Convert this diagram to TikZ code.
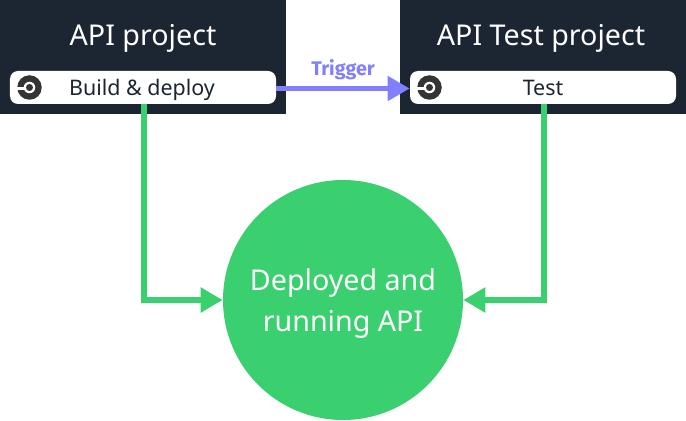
\documentclass[tikz,border=0pt]{standalone}
\usepackage{fontspec}
\setmainfont{Noto Sans}
\newfontfamily\triggerfont{Fira Sans}
\usepackage{xcolor}
\usetikzlibrary{positioning,arrows.meta}
\definecolor{darkbg}{HTML}{1C2632}
\definecolor{apigreen}{HTML}{3AD06F}
\definecolor{triggerblue}{HTML}{8080FF}
\definecolor{logogrey}{HTML}{343434}
\tikzset{
    project/.style={fill=darkbg, minimum width=5.72cm, minimum height=2.28cm, inner sep=0pt},
    jobbox/.style={fill=white, rounded corners=0.16cm, minimum width=5.32cm, minimum height=0.66cm, inner sep=0pt},
    title/.style={text=white, text height=0.45cm, text depth=0.12cm, font=\fontsize{16.3}{20}\selectfont},
    jobtext/.style={text=darkbg, text height=0.33cm, text depth=0.09cm, font=\fontsize{12.2}{16}\selectfont},
    greenline/.style={draw=apigreen, line width=0.12cm, -{Triangle[length=0.44cm, width=0.48cm]}},
    triggerline/.style={draw=triggerblue, line width=0.1cm, -{Triangle[length=0.44cm, width=0.48cm]}},
}
\newcommand{\cilogo}[1]{
    \fill[logogrey] (#1) circle (0.245);
    \fill[white] (#1) circle (0.115);
    \fill[logogrey] (#1) circle (0.07);
    \fill[white] ([xshift=-0.26cm, yshift=-0.055cm]#1) rectangle ([xshift=-0.1cm, yshift=0.015cm]#1);
}
\begin{document}
\begin{tikzpicture}
    \useasboundingbox (0,0) rectangle (13.72,8.4);

    \node[project] (apibox) at (2.86,7.26) {};
    \node[project] (testbox) at (10.86,7.26) {};
    \node[title] (apititle) at (2.86,7.66) {API project};
    \node[title] (testtitle) at (10.82,7.66) {API Test project};

    \node[jobbox] (build) at (2.86,6.65) {};
    \node[jobbox] (test) at (10.86,6.65) {};
    \node[jobtext] (buildtext) at (2.84,6.61) {Build \& deploy};
    \node[jobtext] (testtext) at (10.86,6.61) {Test};
    \cilogo{0.59,6.65}
    \cilogo{8.59,6.65}

    \node[circle, fill=apigreen, minimum size=4.8cm, inner sep=0pt] (running) at (6.86,2.4) {};
    \node[align=center, text=white, font=\fontsize{16.3}{23.3}\selectfont] (runningtext)
          at (6.86,2.33) {Deployed and\\running API};

    % connectors
    \draw[triggerline] (build.east |- 0,6.63) -- (test.west |- 0,6.63)
        node[midway, above=0.01cm, text=triggerblue, font=\triggerfont\bfseries\fontsize{11.2}{13}\selectfont] (triggerlabel) {Trigger};
    \draw[greenline] (build.south -| 2.88,0) |- (running.west);
    \draw[greenline] (test.south -| 10.88,0) |- (running.east);
\end{tikzpicture}
\end{document}
